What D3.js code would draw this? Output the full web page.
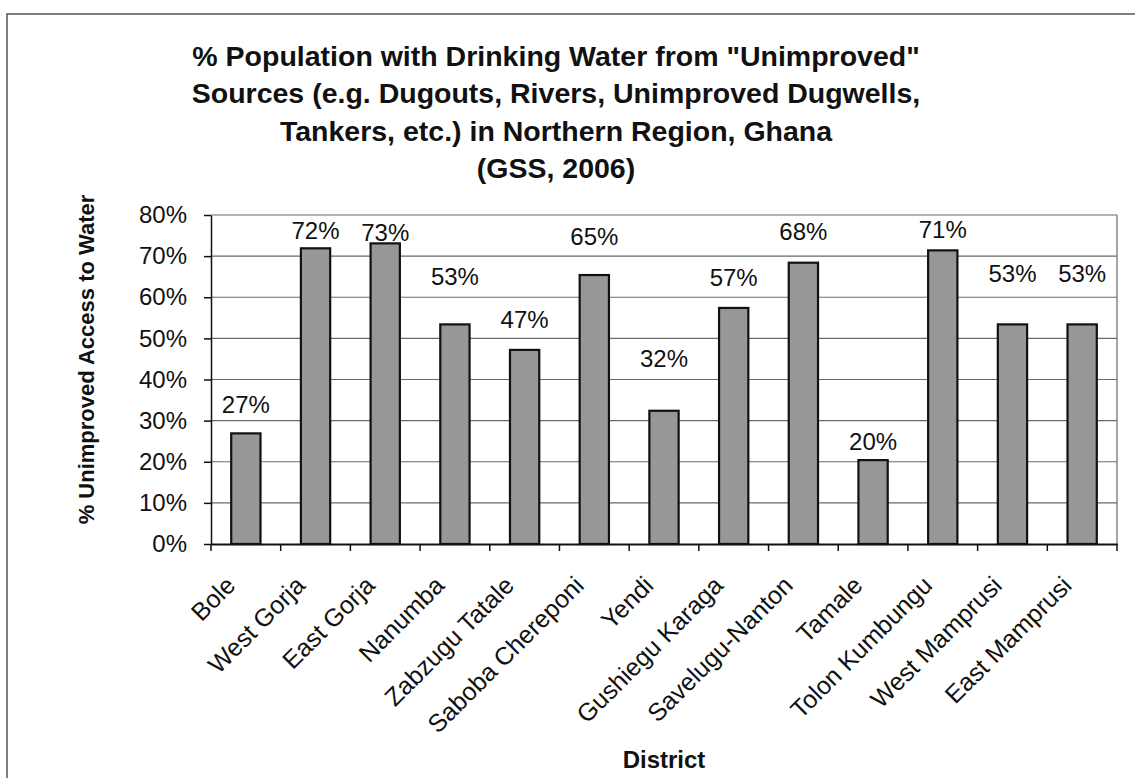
<!DOCTYPE html>
<html>
<head>
<meta charset="utf-8">
<script src="https://cdn.jsdelivr.net/npm/d3@7"></script>
<style>
  body { margin: 0; background: white; }
  text { font-family: "Liberation Sans", Arial, sans-serif; }
</style>
</head>
<body>
<div id="viz-container"></div>
<script>
// data
let districts = ["Bole", "West Gorja", "East Gorja", "Nanumba", "Zabzugu Tatale", "Saboba Chereponi",
                 "Yendi", "Gushiegu Karaga", "Savelugu-Nanton", "Tamale", "Tolon Kumbungu",
                 "West Mamprusi", "East Mamprusi"];
let unimproved = [0.269, 0.719, 0.731, 0.534, 0.472, 0.654, 0.324, 0.574, 0.684, 0.204, 0.714, 0.534, 0.534];
// the labels were dragged around by hand in the original, so keep the level they sit at (in % units)
let labelLevels = [0.319, 0.742, 0.737, 0.630, 0.525, 0.727, 0.430, 0.627, 0.739, 0.228, 0.744, 0.637, 0.637];
let yTicks = [0, 0.1, 0.2, 0.3, 0.4, 0.5, 0.6, 0.7, 0.8];
let titleLines = ["% Population with Drinking Water from \"Unimproved\"",
                  "Sources (e.g. Dugouts, Rivers, Unimproved Dugwells,",
                  "Tankers, etc.) in Northern Region, Ghana",
                  "(GSS, 2006)"];

let w = 1135;
let h = 778;
let plot = {left: 211, right: 1117, top: 215, bottom: 544};

let viz = d3.select("#viz-container")
                .append("svg")
                    .attr("id", "viz")
                    .attr("width", w)
                    .attr("height", h)
                    .style("background-color", "white")
;

// chart border (runs off the right/bottom edge like the scan)
viz.append("rect")
    .attr("x", 7)
    .attr("y", 14)
    .attr("width", w + 10)
    .attr("height", h)
    .attr("fill", "none")
    .attr("stroke", "#555")
    .attr("stroke-width", 1.5)
;

let x = d3.scaleBand()
            .domain(districts)
            .range([plot.left, plot.right])
            .paddingInner(0.58)
            .paddingOuter(0.29)
;
let y = d3.scaleLinear()
            .domain([0, 0.8])
            .range([plot.bottom, plot.top])
;

// gridlines
viz.append("g")
    .selectAll("line").data(yTicks.filter(d => d > 0)).enter().append("line")
        .attr("x1", plot.left)
        .attr("x2", plot.right)
        .attr("y1", d => y(d))
        .attr("y2", d => y(d))
        .attr("stroke", "#6a6a6a")
        .attr("stroke-width", 1.2)
;
// right side of plot frame
viz.append("line")
    .attr("x1", plot.right).attr("x2", plot.right)
    .attr("y1", plot.top).attr("y2", plot.bottom)
    .attr("stroke", "#6a6a6a")
    .attr("stroke-width", 1.2)
;

// bars
viz.append("g")
    .selectAll("rect").data(unimproved).enter().append("rect")
        .attr("x", (d, i) => x(districts[i]))
        .attr("y", d => y(d))
        .attr("width", x.bandwidth())
        .attr("height", d => y(0) - y(d))
        .attr("fill", "#979797")
        .attr("stroke", "#111")
        .attr("stroke-width", 2.2)
;

// y axis
let yAxis = d3.axisLeft(y)
                .tickValues(yTicks)
                .tickFormat(d3.format(".0%"))
                .tickSizeInner(7)
                .tickSizeOuter(0)
                .tickPadding(17)
;
let yg = viz.append("g")
    .attr("transform", "translate(" + plot.left + ",0)")
    .call(yAxis)
;
yg.selectAll("text")
    .attr("font-size", 24)
    .attr("fill", "#111")
    .style("font-family", "'Liberation Sans', Arial, sans-serif")
;
yg.selectAll("line, path").attr("stroke", "#111").attr("stroke-width", 1.5);

// x axis, ticks sit between the categories
let xAxis = d3.axisBottom(x)
                .tickSize(0)
                .tickFormat("")
;
let xg = viz.append("g")
    .attr("transform", "translate(0," + plot.bottom + ")")
    .call(xAxis)
;
xg.select("path").attr("stroke", "#111").attr("stroke-width", 1.8);

let step = x.step();
let bounds = d3.range(districts.length + 1).map(i => x(districts[0]) - x.paddingOuter() * step + i * step);
viz.append("g")
    .selectAll("line").data(bounds).enter().append("line")
        .attr("x1", d => d)
        .attr("x2", d => d)
        .attr("y1", plot.bottom)
        .attr("y2", plot.bottom + 7)
        .attr("stroke", "#111")
        .attr("stroke-width", 1.5)
;

// slanted category labels
viz.append("g")
    .selectAll("text").data(districts).enter().append("text")
        .text(d => d)
        .attr("text-anchor", "end")
        .attr("font-size", 25)
        .attr("fill", "#111")
        .attr("transform", d => "translate(" + (x(d) + x.bandwidth() / 2 - 9) + "," + (plot.bottom + 43) + ") rotate(-45)")
;

// data labels
viz.append("g")
    .selectAll("text").data(unimproved).enter().append("text")
        .text(d => d3.format(".0%")(d))
        .attr("x", (d, i) => x(districts[i]) + x.bandwidth() / 2)
        .attr("y", (d, i) => y(labelLevels[i]))
        .attr("text-anchor", "middle")
        .attr("font-size", 24)
        .attr("fill", "#111")
;

// title
viz.append("g")
    .selectAll("text").data(titleLines).enter().append("text")
        .text(d => d)
        .attr("x", 556)
        .attr("y", (d, i) => 66 + i * 37.3)
        .attr("text-anchor", "middle")
        .attr("font-size", 28.5)
        .attr("font-weight", "bold")
        .attr("fill", "#111")
;

// axis titles
viz.append("text")
    .text("% Unimproved Access to Water")
    .attr("transform", "translate(94," + ((plot.top + plot.bottom) / 2 - 20) + ") rotate(-90)")
    .attr("text-anchor", "middle")
    .attr("font-size", 22)
    .attr("font-weight", "bold")
    .attr("fill", "#111")
;
viz.append("text")
    .text("District")
    .attr("x", (plot.left + plot.right) / 2)
    .attr("y", 768)
    .attr("text-anchor", "middle")
    .attr("font-size", 24)
    .attr("font-weight", "bold")
    .attr("fill", "#111")
;
</script>
</body>
</html>
